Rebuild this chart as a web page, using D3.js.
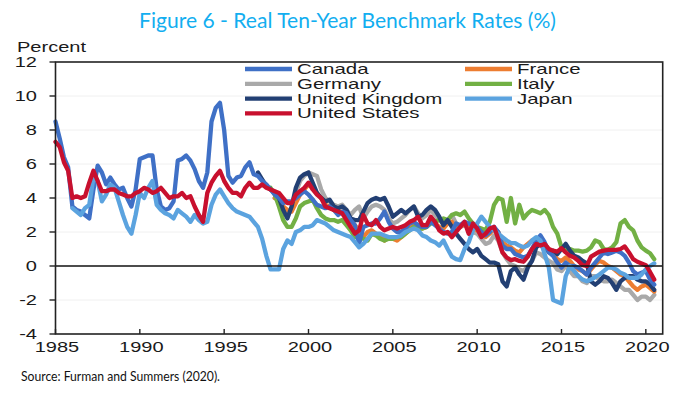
<!DOCTYPE html>
<html>
<head>
<meta charset="utf-8">
<script src="https://cdn.jsdelivr.net/npm/d3@7/dist/d3.min.js"></script>
<style>
body{margin:0;background:#fff;}
svg{display:block;}
</style>
</head>
<body>
<div id="chart"></div>
<script>
// quarterly real 10y rates
var seriesNames=["Canada","France","Germany","Italy","United Kingdom","Japan","United States"];
var seriesColors=["#3f70c6","#ed7d31","#a9a9a9","#72b044","#223f73","#5ba3df","#c8102e"];
var seriesStart=[1985,1998,1998,1997.75,1997,1986,1985];
var drawOrder=[2,1,3,4,0,5,6];

var canada=[8.5,7.5,6.4,5.8, 3.5,3.3,3.2,3.0, 2.8,4.5,5.9,5.5, 4.8,5.2,4.8,4.5,
	4.6,4.0,3.5,4.5, 6.3,6.4,6.5,6.5, 4.5,3.5,3.3,3.4, 3.8,6.2,6.3,6.5,
	6.2,5.7,5.0,4.6, 5.5,8.5,9.3,9.6, 8.0,5.3,4.9,5.2, 5.3,5.8,6.1,5.4,
	5.3,5.0,4.8,4.5, 4.2,4.0,3.7,3.8, 3.8,4.0,4.2,4.4, 4.2,3.9,3.6,3.5,
	3.4,3.5,3.3,3.0, 3.2,3.1,2.7,2.4, 1.3,2.3,2.4,2.5, 2.5,2.8,3.2,2.6,
	2.2,2.0,2.0,2.2, 2.5,2.6,2.4,2.3, 2.3,2.6,2.4,2.2, 2.0,1.9,2.0,2.5,
	2.4,2.6,2.5,2.4, 2.3,2.0,1.8,2.0, 2.3,2.0,1.2,1.0, 1.0,0.7,0.6,0.5,
	0.6,1.0,1.5,1.8, 1.4,0.8,0.6,0.2, -0.1,0.2,0.0,0.0, -0.1,-0.3,-0.5,-0.1,
	0.2,0.5,0.8,0.7, 0.8,0.9,0.8,0.6, 0.2,-0.3,-0.5,-0.4, -0.3,-0.8,-1.1];
var france=[4.0,3.9,3.5,3.3, 3.2,3.7,4.2,4.5, 4.8,4.6,4.3,4.0, 3.6,3.5,3.3,3.2,
	3.2,2.9,2.7,2.4, 2.1,1.7,2.0,2.1, 1.9,1.8,1.5,1.7, 1.6,1.5,1.7,1.9,
	2.2,2.4,2.3,2.2, 2.3,2.6,2.5,2.3, 2.2,2.5,2.6,2.2, 2.3,2.5,2.4,2.2,
	2.1,1.9,1.7,1.9, 2.2,2.0,1.4,1.2, 1.1,0.9,0.8,1.1, 1.3,1.5,1.5,1.4,
	1.3,1.0,0.7,0.4, 0.3,0.5,0.3,0.0, -0.2,-0.3,-0.5,-0.2, 0.1,0.3,0.2,0.0,
	-0.1,-0.3,-0.5,-0.6, -0.9,-1.2,-1.4,-1.2, -1.1,-1.3,-1.5];
var germany=[4.0,3.9,3.5,3.0, 3.3,4.3,5.0,5.3, 5.5,5.4,5.3,4.5, 4.0,3.8,3.6,3.5,
	3.6,3.3,3.0,3.3, 3.5,2.8,3.2,3.5, 3.6,3.5,3.3,2.8, 2.5,2.6,2.8,3.0,
	3.3,3.5,3.1,2.8, 3.0,3.3,3.0,2.7, 2.5,2.7,3.0,2.5, 2.3,2.4,2.2,2.0,
	1.9,1.6,1.3,1.4, 1.8,1.5,0.8,0.4, 0.1,0.0,-0.2,-0.3, 0.0,0.3,0.8,0.7,
	0.5,0.3,0.15,-0.2, -0.3,0.0,-0.3,-0.6, -0.6,-0.9,-1.0,-0.6, -0.6,-0.8,-0.9,-0.9,
	-0.8,-1.0,-1.2,-1.4, -1.4,-1.7,-2.0,-1.8, -1.8,-2.0,-1.7];
var italy=[4.6, 4.2,3.5,2.7,2.3, 2.3,2.8,3.5,3.7, 3.8,3.9,3.4,3.0, 2.8,2.7,2.7,2.6,
	2.7,2.4,2.1,1.7, 1.7,1.6,1.5,1.9, 1.8,1.6,1.5,1.6, 1.6,1.7,1.7,1.9,
	2.1,2.3,2.2,2.2, 2.3,2.5,2.6,2.7, 2.8,2.7,3.0,3.1, 3.0,3.2,2.8,2.5,
	2.3,2.2,2.1,2.6, 3.6,4.0,3.9,2.6, 4.0,2.5,3.6,2.8, 3.1,3.3,3.2,3.1,
	3.3,3.0,2.3,1.9, 1.1,1.0,1.0,0.9, 0.9,0.85,0.9,1.1, 1.5,1.4,1.0,0.95,
	1.1,1.4,2.5,2.7, 2.3,2.1,1.5,1.1, 0.9,0.75,0.4];
var uk=[5.5,5.1,4.7,4.5, 4.3,4.0,3.3,2.8, 3.5,4.6,5.2,5.4, 5.5,4.9,4.3,4.0,
	3.8,3.9,3.5,3.4, 3.5,3.3,2.8,2.7, 2.7,3.2,3.7,3.9, 4.0,3.9,4.0,3.5,
	2.9,3.1,3.3,3.1, 3.3,3.5,2.9,3.0, 3.3,3.5,3.3,2.9, 2.4,2.7,2.3,1.9,
	1.6,1.3,1.0,0.8, 1.0,0.6,0.4,0.2, 0.2,0.1,-0.9,-1.2, -0.3,-0.1,-0.5,-0.8,
	-0.1,0.3,1.1,1.3, 1.2,0.8,0.9,0.7, 1.0,1.3,0.9,0.6, 0.5,0.3,0.15,-0.9,
	-1.1,-0.9,-0.6,-0.7, -1.0,-1.4,-0.9,-0.7, -0.6,-0.6,-0.8,-0.9, -0.9,-1.1,-1.4];
var japan=[3.4,3.2,3.0,3.4, 3.6,5.2,5.0,3.8, 4.2,4.8,4.6,3.8, 3.0,2.3,1.9,3.0,
	4.3,4.0,4.6,5.0, 3.6,3.3,3.1,3.0, 2.8,3.3,3.1,2.9, 2.6,3.0,2.7,2.5,
	2.6,3.6,4.2,4.5, 4.1,3.7,3.4,3.2, 3.1,3.0,2.9,2.6, 2.3,1.6,0.6,-0.2,
	-0.2,-0.2,1.0,1.5, 1.3,2.0,2.1,2.3, 2.3,2.4,2.7,2.6, 2.5,2.3,2.1,2.0,
	1.9,1.8,1.7,1.4, 1.1,1.3,1.6,1.9, 1.9,1.9,1.8,1.7, 1.7,1.7,1.8,2.0,
	2.1,2.2,2.1,1.8, 1.7,1.5,1.4,1.2, 1.5,1.0,0.55,0.4, 0.35,1.0,1.4,2.1,
	2.5,2.9,2.6,2.3, 2.1,1.9,1.7,1.5, 1.35,1.35,1.2,1.1, 1.2,1.5,1.7,1.5,
	0.7,-0.1,-2.0,-2.1, -2.2,-0.6,0.0,-0.3, -0.6,-0.8,-0.9,-0.8, -0.65,-0.5,-0.3,-0.1,
	-0.1,-0.2,-0.4,-0.5, -0.7,-0.7,-0.7,-0.5, -0.2,0.0,0.15];
var us=[7.3,7.0,6.1,5.6, 4.0,4.1,4.0,4.1, 4.9,5.6,5.0,4.4, 4.4,4.5,4.5,4.3,
	4.2,4.1,4.1,4.3, 4.4,4.6,4.5,4.3, 4.4,4.6,4.3,4.0, 4.1,4.1,4.3,4.0,
	4.1,3.5,3.0,2.6, 4.3,4.9,5.3,5.6, 5.0,4.6,4.3,4.3, 4.1,4.6,4.9,4.6,
	4.6,4.8,4.6,4.5, 4.4,4.3,4.0,3.7, 3.7,4.2,4.4,4.6, 4.9,4.5,4.2,4.0,
	3.5,3.4,3.3,3.2, 3.1,2.7,2.3,1.9, 2.1,3.0,2.5,2.4, 2.7,2.3,2.1,2.2,
	2.3,2.2,2.3,2.4, 2.6,2.7,2.9,2.4, 2.4,2.9,2.6,2.1, 1.9,2.0,1.7,2.0,
	2.3,2.6,1.9,2.5, 2.2,1.7,1.9,2.2, 2.3,1.6,0.8,0.5, 0.35,0.4,0.3,0.25,
	0.55,1.0,1.3,1.2, 1.3,1.0,0.9,0.85, 1.05,0.8,0.6,0.5, 0.3,0.05,0.0,0.55,
	0.7,0.85,0.9,0.95, 0.95,0.95,1.0,1.15, 0.8,0.4,0.25,0.15, 0.05,-0.35,-0.8];
var seriesValues=[canada,france,germany,italy,uk,japan,us];

var yTicks=[12,10,8,6,4,2,0,-2,-4];
var xTicks=[1985,1990,1995,2000,2005,2010,2015,2020];
var titleText="Figure 6 - Real Ten-Year Benchmark Rates (%)";
var sourceText="Source: Furman and Summers (2020).";

(function(){
	var width=700,height=394;
	var pLeft=55.5,pRight=662.7,pTop=62,pBottom=334;

	var svg=d3.select("#chart").append("svg")
		.attr("width",width)
		.attr("height",height);

	var x=d3.scaleLinear().domain([1985,2021]).range([pLeft,pRight]);
	var y=d3.scaleLinear().domain([-4,12]).range([pBottom,pTop]);

	// the picture's labels are stretched sideways
	function wideText(px,py,txt,anchor,size,sx){
		return svg.append("g").attr("transform","translate("+px+","+py+")")
			.append("text")
			.attr("transform","scale("+sx+",1)")
			.attr("text-anchor",anchor)
			.style("font-family","Arial, 'Liberation Sans', sans-serif")
			.style("font-size",size+"px")
			.attr("fill","#1a1a1a")
			.text(txt);
	}

	// title and source
	svg.append("text")
		.attr("x",347.5).attr("y",28)
		.attr("text-anchor","middle")
		.attr("textLength",417).attr("lengthAdjust","spacingAndGlyphs")
		.style("font-family","Lato, 'Open Sans', sans-serif")
		.style("font-size","21.5px")
		.attr("fill","#12aef0")
		.text(titleText);
	svg.append("text")
		.attr("x",21).attr("y",381)
		.attr("textLength",199).attr("lengthAdjust","spacingAndGlyphs")
		.style("font-family","Lato, 'Open Sans', sans-serif")
		.style("font-size","13px")
		.attr("fill","#111")
		.text(sourceText);

	// gridlines
	svg.append("g").selectAll("line")
		.data(yTicks.filter(function(d){return d!=0&&d!=12&&d!=-4;}))
		.enter().append("line")
		.attr("x1",pLeft).attr("x2",pRight)
		.attr("y1",function(d){return y(d);}).attr("y2",function(d){return y(d);})
		.attr("stroke","#f0f0f0").attr("stroke-width",1);

	// series lines
	var line=d3.line()
		.x(function(d){return x(d[0]);})
		.y(function(d){return y(d[1]);});
	var lines=svg.append("g");
	drawOrder.forEach(function(i){
		var pts=seriesValues[i].map(function(v,k){return [seriesStart[i]+k*0.25,v];});
		lines.append("path")
			.attr("d",line(pts))
			.attr("fill","none")
			.attr("stroke",seriesColors[i])
			.attr("stroke-width",4.3)
			.attr("stroke-linejoin","round")
			.attr("stroke-linecap","round");
	});

	// zero line + frame
	svg.append("line")
		.attr("x1",pLeft).attr("x2",pRight)
		.attr("y1",y(0)).attr("y2",y(0))
		.attr("stroke","#111").attr("stroke-width",1.4);
	svg.append("rect")
		.attr("x",pLeft).attr("y",pTop)
		.attr("width",pRight-pLeft).attr("height",pBottom-pTop)
		.attr("fill","none").attr("stroke","#222").attr("stroke-width",1.6);

	// y ticks
	svg.append("g").selectAll("line")
		.data(yTicks).enter().append("line")
		.attr("x1",pLeft-6).attr("x2",pLeft)
		.attr("y1",function(d){return y(d);}).attr("y2",function(d){return y(d);})
		.attr("stroke","#222").attr("stroke-width",1.4);
	yTicks.forEach(function(d){
		wideText(37,y(d)+5,d,"end",14.5,1.38);
	});
	wideText(17,52,"Percent","start",14.5,1.38);

	// x ticks
	svg.append("g").selectAll("line")
		.data(xTicks).enter().append("line")
		.attr("x1",function(d){return x(d);}).attr("x2",function(d){return x(d);})
		.attr("y1",pBottom-5).attr("y2",pBottom)
		.attr("stroke","#222").attr("stroke-width",1.4);
	xTicks.forEach(function(d){
		wideText(x(d)+1.5,352,d,"middle",14.5,1.38);
	});

	// legend, two columns
	seriesNames.forEach(function(name,i){
		var col=i%2,row=Math.floor(i/2);
		var lx=col==0?245:465;
		var ly=69+row*14.8;
		svg.append("line")
			.attr("x1",lx).attr("x2",lx+47)
			.attr("y1",ly).attr("y2",ly)
			.attr("stroke",seriesColors[i]).attr("stroke-width",4.3);
		wideText(lx+52,ly+5,name,"start",14,1.46);
	});
})();
</script>
</body>
</html>
